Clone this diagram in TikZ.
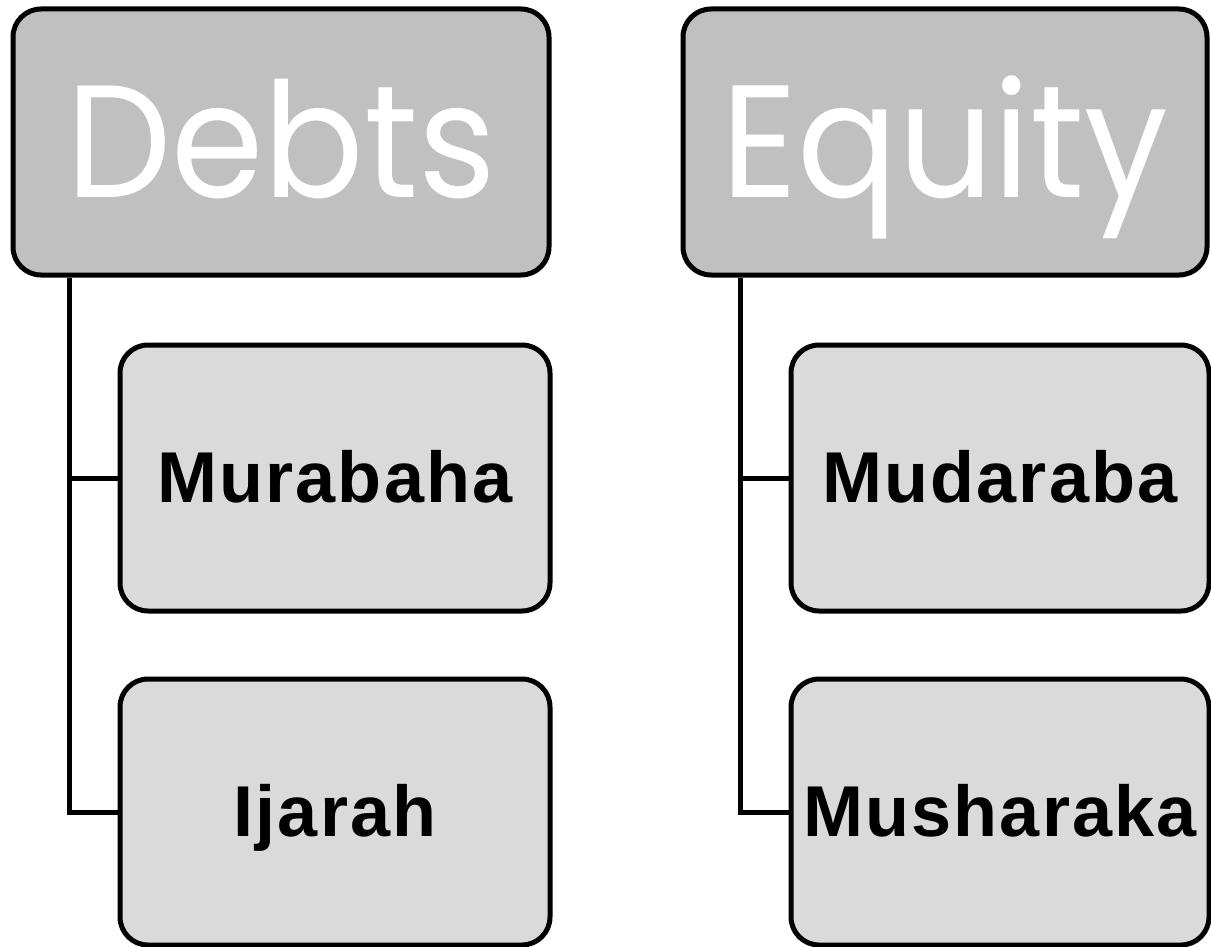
\documentclass[tikz,border=0pt]{standalone}
\usepackage{fontspec}
\newfontfamily\headfont[FakeStretch=0.93]{Poppins}
\newfontfamily\childfont[LetterSpace=3]{Liberation Sans}
\definecolor{headfill}{RGB}{192,192,192}
\definecolor{childfill}{RGB}{218,218,218}
\begin{document}
\begin{tikzpicture}[x=1pt,y=-1pt,
  headbox/.style={draw=black,line width=5pt,rounded corners=28pt,fill=headfill,
    minimum height=266pt,inner sep=0pt,text height=110pt,text depth=0pt,
    font=\headfont\fontsize{160}{160}\selectfont,text=white},
  childbox/.style={draw=black,line width=5pt,rounded corners=28pt,fill=childfill,
    minimum height=266pt,inner sep=0pt,text height=48pt,text depth=0pt,
    font=\childfont\bfseries\fontsize{72}{72}\selectfont,text=black},
  link/.style={draw=black,line width=5pt}]
\useasboundingbox (0,0) rectangle (1211,947);
\node[headbox,minimum width=536pt] (debts) at (281,142) {Debts};
\node[headbox,minimum width=524pt] (equity) at (945,142) {Equity};
\node[childbox,minimum width=430pt] (murabaha) at (335,478) {Murabaha};
\node[childbox,minimum width=430pt] (ijarah) at (335,812) {Ijarah};
\node[childbox,minimum width=418pt] (mudaraba) at (1000,478) {Mudaraba};
\node[childbox,minimum width=418pt] (musharaka) at (1000,812) {Musharaka};
\draw[link] (debts.south -| 69,0) |- (murabaha.west);
\draw[link] (debts.south -| 69,0) |- (ijarah.west);
\draw[link] (equity.south -| 740,0) |- (mudaraba.west);
\draw[link] (equity.south -| 740,0) |- (musharaka.west);
\end{tikzpicture}
\end{document}
